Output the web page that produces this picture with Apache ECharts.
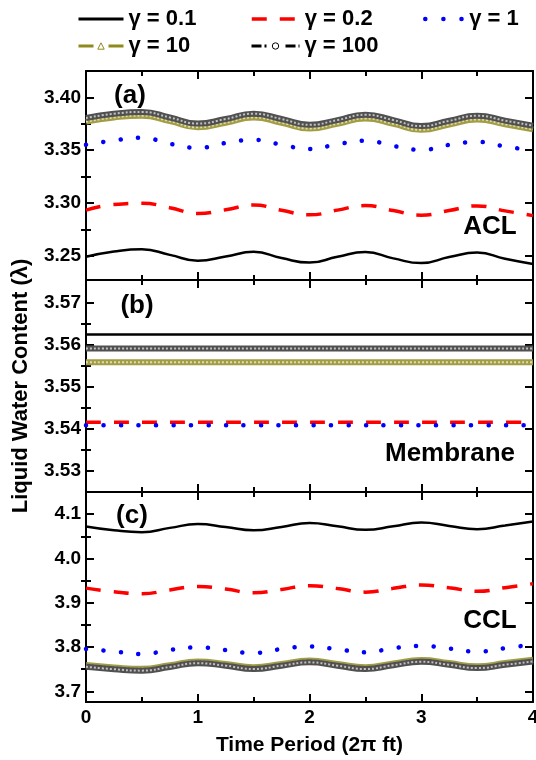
<!DOCTYPE html>
<html><head><meta charset="utf-8">
<script src="https://cdn.jsdelivr.net/npm/echarts@6/dist/echarts.min.js"></script>
<style>html,body{margin:0;padding:0;background:#fff}#c{width:536px;height:760px}</style>
</head><body><div id="c"></div>
<script>
// ---- data ----
const timePeriod = [0, 0.25, 0.5, 0.75, 1, 1.25, 1.5, 1.75, 2, 2.25, 2.5, 2.75, 3, 3.25, 3.5, 3.75, 4];

const aclG01  = [3.2490, 3.2540, 3.2562, 3.2508, 3.2453, 3.2492, 3.2537, 3.2478, 3.2435, 3.2490, 3.2535, 3.2475, 3.2430, 3.2487, 3.2530, 3.2472, 3.2422];
const aclG02  = [3.2932, 3.2985, 3.2997, 3.2955, 3.2900, 3.2935, 3.2980, 3.2930, 3.2887, 3.2932, 3.2975, 3.2928, 3.2884, 3.2928, 3.2972, 3.2925, 3.2880];
const aclG1   = [3.3551, 3.3592, 3.3618, 3.3560, 3.3522, 3.3568, 3.3598, 3.3552, 3.3511, 3.3556, 3.3590, 3.3540, 3.3503, 3.3550, 3.3578, 3.3535, 3.3495];
const aclG10  = [3.3770, 3.3810, 3.3827, 3.3775, 3.3717, 3.3760, 3.3810, 3.3760, 3.3705, 3.3750, 3.3800, 3.3750, 3.3693, 3.3743, 3.3791, 3.3745, 3.3697];
const aclG100 = [3.3805, 3.3845, 3.3862, 3.3810, 3.3752, 3.3795, 3.3845, 3.3795, 3.3740, 3.3785, 3.3835, 3.3785, 3.3728, 3.3778, 3.3826, 3.3780, 3.3732];

const memG01  = [3.5625, 3.5625, 3.5625, 3.5625, 3.5625, 3.5625, 3.5625, 3.5625, 3.5625, 3.5625, 3.5625, 3.5625, 3.5625, 3.5625, 3.5625, 3.5625, 3.5625];
const memG02  = [3.5416, 3.5416, 3.5416, 3.5416, 3.5416, 3.5416, 3.5416, 3.5416, 3.5416, 3.5416, 3.5416, 3.5416, 3.5416, 3.5416, 3.5416, 3.5416, 3.5416];
const memG1   = [3.5409, 3.5409, 3.5409, 3.5409, 3.5409, 3.5409, 3.5409, 3.5409, 3.5409, 3.5409, 3.5409, 3.5409, 3.5409, 3.5409, 3.5409, 3.5409, 3.5409];
const memG10  = [3.5559, 3.5559, 3.5559, 3.5559, 3.5559, 3.5559, 3.5559, 3.5559, 3.5559, 3.5559, 3.5559, 3.5559, 3.5559, 3.5559, 3.5559, 3.5559, 3.5559];
const memG100 = [3.5592, 3.5592, 3.5592, 3.5592, 3.5592, 3.5592, 3.5592, 3.5592, 3.5592, 3.5592, 3.5592, 3.5592, 3.5592, 3.5592, 3.5592, 3.5592, 3.5592];

const cclG01  = [4.0720, 4.0635, 4.0594, 4.0690, 4.0775, 4.0710, 4.0635, 4.0710, 4.0800, 4.0725, 4.0646, 4.0725, 4.0810, 4.0735, 4.0662, 4.0745, 4.0834];
const cclG02  = [3.9330, 3.9250, 3.9203, 3.9290, 3.9367, 3.9310, 3.9225, 3.9300, 3.9385, 3.9320, 3.9240, 3.9325, 3.9400, 3.9340, 3.9260, 3.9340, 3.9430];
const cclG1   = [3.7956, 3.7900, 3.7843, 3.7935, 3.7992, 3.7930, 3.7868, 3.7955, 3.8013, 3.7950, 3.7880, 3.7975, 3.8025, 3.7965, 3.7900, 3.7975, 3.8060];
const cclG10  = [3.7595, 3.7540, 3.7508, 3.7590, 3.7675, 3.7620, 3.7545, 3.7620, 3.7695, 3.7620, 3.7545, 3.7630, 3.7708, 3.7640, 3.7565, 3.7640, 3.7715];
const cclG100 = [3.7555, 3.7500, 3.7468, 3.7550, 3.7635, 3.7580, 3.7505, 3.7580, 3.7655, 3.7580, 3.7505, 3.7590, 3.7668, 3.7600, 3.7525, 3.7600, 3.7675];

const seriesNames = ['γ = 0.1', 'γ = 0.2', 'γ = 1', 'γ = 10', 'γ = 100'];
const panelTitles = ['(a)', '(b)', '(c)'];
const panelNames = ['ACL', 'Membrane', 'CCL'];

const aclRange = [3.227, 3.425];
const memRange = [3.525, 3.5755];
const cclRange = [3.676, 4.15];
const aclMajor = [3.25, 3.30, 3.35, 3.40];
const aclMinor = [3.275, 3.325, 3.375];
const memMajor = [3.53, 3.54, 3.55, 3.56, 3.57];
const memMinor = [3.535, 3.545, 3.555, 3.565];
const cclMajor = [3.7, 3.8, 3.9, 4.0, 4.1];
const cclMinor = [3.75, 3.85, 3.95, 4.05];

// ---- styling ----
const FONT = "'Liberation Sans', Arial, Helvetica, sans-serif";
const BLACK = '#000000', RED = '#ff0000', BLUE = '#0000ff';
const OLIVE = '#a29d45', OLIVE_LIGHT = '#dedbb0', OLIVE_DARK = '#8f8a1c';
const GRAY = '#505050', GRAY_LIGHT = '#c0c0c0';

const grids = [
  {left: 86, top: 71, width: 447, height: 209},
  {left: 86, top: 280, width: 447, height: 212},
  {left: 86, top: 492, width: 447, height: 210}
].map(g => Object.assign({outerBoundsMode: 'none', containLabel: false}, g));

const lineAx = {show: true, onZero: false, lineStyle: {color: BLACK, width: 2}};
const tickLs = {color: BLACK, width: 2};
const labelTs = {color: BLACK, fontFamily: FONT, fontWeight: 'bold', fontSize: 19};

const xAxes = [], yAxes = [];
function addX(gi, withLabels) {
  const common = {type: 'value', gridIndex: gi, min: 0, max: 4, interval: 1,
    axisLine: lineAx, splitLine: {show: false}, minorSplitLine: {show: false},
    axisTick: {show: true, inside: true, length: 8, lineStyle: tickLs},
    minorTick: {show: true, splitNumber: 2, length: 5, lineStyle: tickLs}};
  xAxes.push(Object.assign({}, common, {position: 'bottom',
    axisLabel: Object.assign({show: withLabels, margin: 6}, labelTs),
    name: withLabels ? 'Time Period (2π ft)' : '', nameLocation: 'middle', nameGap: 33,
    nameTextStyle: {color: BLACK, fontFamily: FONT, fontWeight: 'bold', fontSize: 21}}));
  xAxes.push(Object.assign({}, common, {position: 'top', axisLabel: {show: false}}));
}
function addY(gi, range, majors, minors, digits) {
  const base = {type: 'value', gridIndex: gi, min: range[0], max: range[1], splitLine: {show: false}};
  yAxes.push(Object.assign({}, base, {position: 'left', axisLine: lineAx,
    axisTick: {show: true, inside: true, length: 8, lineStyle: tickLs, customValues: majors},
    axisLabel: Object.assign({show: true, margin: 5, customValues: majors, formatter: v => Number(v).toFixed(digits)}, labelTs)}));
  yAxes.push(Object.assign({}, base, {position: 'left', axisLine: {show: false},
    axisTick: {show: true, inside: true, length: 5, lineStyle: tickLs, customValues: minors},
    axisLabel: {show: false}}));
  yAxes.push(Object.assign({}, base, {position: 'right', axisLine: lineAx,
    axisTick: {show: true, inside: true, length: 8, lineStyle: tickLs, customValues: majors},
    axisLabel: {show: false}}));
  yAxes.push(Object.assign({}, base, {position: 'right', axisLine: {show: false},
    axisTick: {show: true, inside: true, length: 5, lineStyle: tickLs, customValues: minors},
    axisLabel: {show: false}}));
}

const panels = [
  {range: aclRange, major: aclMajor, minor: aclMinor, digits: 2, data: [aclG01, aclG02, aclG1, aclG10, aclG100]},
  {range: memRange, major: memMajor, minor: memMinor, digits: 2, data: [memG01, memG02, memG1, memG10, memG100]},
  {range: cclRange, major: cclMajor, minor: cclMinor, digits: 1, data: [cclG01, cclG02, cclG1, cclG10, cclG100]}
];

const series = [];
function pts(arr) { return timePeriod.map((t, i) => [t, arr[i]]); }
panels.forEach((p, gi) => {
  addX(gi, gi === 2);
  addY(gi, p.range, p.major, p.minor, p.digits);
  const base = {type: 'line', xAxisIndex: 2 * gi, yAxisIndex: 4 * gi, smooth: 0.5,
    showSymbol: false, symbol: 'none', silent: true, animation: false};
  const [g01, g02, g1, g10, g100] = p.data;
  series.push(Object.assign({}, base, {name: seriesNames[0], data: pts(g01), color: BLACK,
    lineStyle: {color: BLACK, width: 2.5}}));
  series.push(Object.assign({}, base, {name: seriesNames[1], data: pts(g02), color: RED,
    lineStyle: {color: RED, width: 3.5, type: [15, 13]}}));
  series.push(Object.assign({}, base, {name: seriesNames[2], data: pts(g1), color: BLUE,
    lineStyle: {color: BLUE, width: 4.5, type: [0.1, 17.4], cap: 'round'}}));
  series.push(Object.assign({}, base, {name: seriesNames[3], data: pts(g10), color: OLIVE, symbol: 'triangle',
    lineStyle: {color: OLIVE, width: 6}}));
  series.push(Object.assign({}, base, {name: 'γ10 core', data: pts(g10), color: OLIVE_LIGHT,
    lineStyle: {color: OLIVE_LIGHT, width: 2, type: [2, 2]}}));
  series.push(Object.assign({}, base, {name: seriesNames[4], data: pts(g100), color: GRAY, symbol: 'circle',
    lineStyle: {color: GRAY, width: 6}}));
  series.push(Object.assign({}, base, {name: 'γ100 core', data: pts(g100), color: GRAY_LIGHT,
    lineStyle: {color: GRAY_LIGHT, width: 2, type: [2, 2]}}));
});

const legendCommon = {padding: 0, itemHeight: 8, itemGap: 0, selectedMode: false,
  textStyle: {fontFamily: FONT, fontWeight: 'bold', fontSize: 22, color: BLACK}};
const legends = [
  {left: 77, top: 8, itemWidth: 45, data: [{name: seriesNames[0], lineStyle: {color: BLACK, width: 3, type: 'solid'}, itemStyle: {opacity: 0}}]},
  {left: 250, top: 8, itemWidth: 48, data: [{name: seriesNames[1], lineStyle: {color: RED, width: 3.5, type: [15, 13]}, itemStyle: {opacity: 0}}]},
  {left: 423, top: 8, itemWidth: 39, data: [{name: seriesNames[2], lineStyle: {color: BLUE, width: 4.5, type: [0.1, 18], cap: 'round'}, itemStyle: {opacity: 0}}]},
  {left: 77, top: 35, itemWidth: 45, data: [{name: seriesNames[3], lineStyle: {color: OLIVE_DARK, width: 3, type: [15, 15]}, itemStyle: {color: '#fff', borderColor: OLIVE_DARK, borderWidth: 1}}]},
  {left: 250, top: 35, itemWidth: 48, data: [{name: seriesNames[4], lineStyle: {color: BLACK, width: 3, type: [10, 3, 2, 19, 10, 3, 2, 0]}, itemStyle: {color: '#fff', borderColor: BLACK, borderWidth: 1}}]}
].map(l => Object.assign({}, legendCommon, l));

const txt = (text, x, y, size, rot) => ({type: 'text', x: x, y: y, rotation: rot || 0, silent: true,
  style: {text: text, fill: BLACK, fontFamily: FONT, fontWeight: 'bold', fontSize: size, align: 'center', verticalAlign: 'middle'}});

const chart = echarts.init(document.getElementById('c'), null, {renderer: 'canvas'});
chart.setOption({
  animation: false,
  backgroundColor: '#fff',
  grid: grids,
  xAxis: xAxes,
  yAxis: yAxes,
  legend: legends,
  series: series,
  graphic: [
    txt('Liquid Water Content (λ)', 21, 386, 22, Math.PI / 2),
    txt(panelTitles[0], 130, 96, 26),
    txt(panelTitles[1], 137, 306, 26),
    txt(panelTitles[2], 132, 516, 26),
    txt(panelNames[0], 490, 227, 26),
    txt(panelNames[1], 450, 454, 26),
    txt(panelNames[2], 490, 621, 26)
  ]
});
</script>
</body></html>
